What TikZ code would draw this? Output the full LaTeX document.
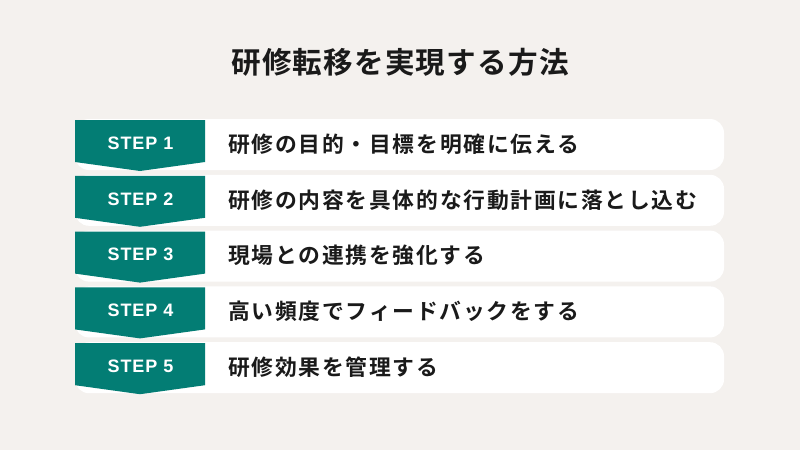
\documentclass[tikz,border=0pt]{standalone}
\usepackage{fontspec}
\setmainfont{Liberation Sans}
\newfontfamily\jpbold[LetterSpace=8]{Noto Sans CJK JP Bold}
\newfontfamily\jptitle[LetterSpace=4]{Noto Sans CJK JP Bold}
\newfontfamily\stepfont[LetterSpace=5]{Liberation Sans Bold}
\definecolor{bgc}{HTML}{F4F1EE}
\definecolor{teal1}{HTML}{037D74}
\definecolor{ink}{HTML}{1A1A1A}
\tikzset{
  rowbox/.style={fill=white, rounded corners=14pt},
  steptag/.style={fill=teal1},
  steplabel/.style={text=white, font=\stepfont\fontsize{18}{18}\selectfont, inner sep=0pt},
  rowtext/.style={text=ink, font=\jpbold\fontsize{21.8}{22}\selectfont, anchor=west, inner sep=0pt},
  titletext/.style={text=ink, font=\jptitle\fontsize{29.6}{30}\selectfont, inner sep=0pt}
}
\begin{document}
\begin{tikzpicture}[x=1pt,y=-1pt]
\useasboundingbox (0,0) rectangle (800,450);
\fill[bgc] (0,0) rectangle (800,450);
\node[titletext] (title) at (400,62) {研修転移を実現する方法};
\foreach \i/\lab/\txt in {0/1/研修の目的・目標を明確に伝える,1/2/研修の内容を具体的な行動計画に落とし込む,2/3/現場との連携を強化する,3/4/高い頻度でフィードバックをする,4/5/研修効果を管理する}{
  \pgfmathsetmacro{\t}{119+55.8*\i}
  \fill[rowbox] (75,\t) rectangle (724,\t+51);
  \fill[steptag] (75,\t+1) -- (205,\t+1) -- (205,\t+43) -- (140,\t+52) -- (75,\t+43) -- cycle;
  \node[steplabel] (s\lab) at (140.5,\t+24) {STEP \lab};
  \node[rowtext] (r\lab) at (228,\t+25) {\txt};
}
\end{tikzpicture}
\end{document}
